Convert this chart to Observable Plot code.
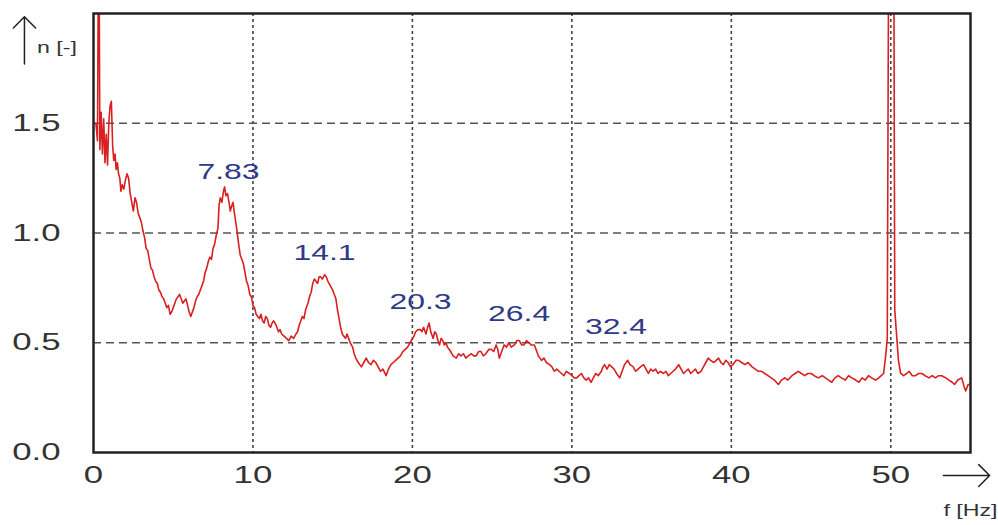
<!DOCTYPE html>
<html>
<head>
<meta charset="utf-8">
<script src="https://cdn.jsdelivr.net/npm/d3@7"></script>
<script src="https://cdn.jsdelivr.net/npm/@observablehq/plot@0.6"></script>
<style>
  html, body { margin: 0; padding: 0; background: #fff; }
  #chart svg { display: block; }
</style>
</head>
<body>
<div id="chart"></div>
<script>
// ---- data ----
const freqHz = [
0.15,0.25,0.33,0.40,0.48,0.56,0.64,0.72,0.80,0.88,0.96,1.04,1.12,1.20,1.27,1.35,1.42,1.50,1.57,1.65,
1.72,1.80,1.90,2.00,2.10,2.20,2.30,2.40,2.50,2.60,2.70,2.80,2.90,3.00,3.10,3.20,3.30,3.40,3.50,3.60,
3.70,3.80,3.90,4.00,4.10,4.20,4.30,4.40,4.50,4.60,4.70,4.80,4.90,5.00,5.10,5.20,5.30,5.40,5.50,5.60,
5.70,5.80,5.90,6.00,6.10,6.20,6.30,6.40,6.50,6.60,6.70,6.80,6.90,7.00,7.10,7.20,7.30,7.40,7.50,7.60,
7.70,7.80,7.88,7.95,8.05,8.15,8.22,8.30,8.40,8.50,8.58,8.65,8.75,8.82,8.90,9.00,9.10,9.20,9.30,9.40,
9.50,9.60,9.70,9.80,9.90,10.00,10.10,10.20,10.30,10.40,10.50,10.60,10.70,10.80,10.90,11.00,11.10,11.20,11.30,11.45,
11.60,11.70,11.80,11.95,12.10,12.25,12.40,12.55,12.70,12.80,12.90,13.00,13.10,13.20,13.30,13.45,13.55,13.65,13.75,13.85,
13.95,14.05,14.15,14.25,14.35,14.50,14.60,14.70,14.85,15.00,15.10,15.20,15.30,15.40,15.50,15.60,15.70,15.80,15.90,16.00,
16.10,16.25,16.35,16.45,16.60,16.80,16.95,17.10,17.25,17.40,17.55,17.70,17.85,18.00,18.15,18.35,18.50,18.65,18.80,18.95,
19.10,19.25,19.40,19.55,19.70,19.85,20.00,20.10,20.20,20.35,20.50,20.60,20.70,20.85,20.95,21.05,21.15,21.30,21.40,21.50,
21.60,21.70,21.80,21.90,22.00,22.10,22.20,22.30,22.40,22.55,22.75,22.90,23.05,23.20,23.35,23.50,23.70,23.85,24.00,24.15,
24.30,24.45,24.60,24.80,24.95,25.10,25.25,25.35,25.45,25.60,25.75,25.90,26.05,26.20,26.40,26.55,26.70,26.85,27.00,27.15,
27.30,27.45,27.65,27.80,27.90,28.00,28.10,28.25,28.40,28.60,28.75,28.90,29.05,29.20,29.35,29.50,29.65,29.85,30.00,30.15,
30.30,30.45,30.60,30.75,30.90,31.05,31.20,31.35,31.50,31.65,31.85,31.95,32.05,32.20,32.35,32.50,32.65,32.80,33.00,33.15,
33.30,33.40,33.50,33.65,33.85,34.00,34.15,34.30,34.50,34.65,34.80,34.95,35.10,35.25,35.40,35.55,35.75,35.90,36.05,36.20,
36.35,36.50,36.70,36.85,37.00,37.15,37.30,37.45,37.60,37.75,37.90,38.10,38.25,38.40,38.55,38.70,38.90,39.05,39.20,39.35,
39.50,39.65,39.80,39.95,40.10,40.30,40.45,40.65,40.85,41.05,41.30,41.50,41.70,41.90,42.10,42.30,42.50,42.70,42.95,43.15,
43.35,43.55,43.80,44.00,44.20,44.40,44.60,44.80,45.00,45.20,45.45,45.70,45.90,46.10,46.30,46.50,46.70,46.90,47.15,47.35,
47.55,47.80,48.00,48.20,48.40,48.60,48.80,49.05,49.25,49.40,49.55,49.68,49.78,49.88,50.18,50.25,50.35,50.48,50.62,50.80,
51.00,51.15,51.35,51.55,51.75,51.95,52.15,52.40,52.60,52.80,53.00,53.20,53.45,53.65,53.85,54.00,54.20,54.45,54.60,54.70,
54.85,55.00
];
const amplitude = [
1.50,1.42,2.60,1.38,1.55,1.36,1.52,1.32,1.45,1.31,1.50,1.58,1.60,1.40,1.33,1.36,1.29,1.32,1.27,1.25,
1.19,1.22,1.20,1.24,1.27,1.25,1.18,1.14,1.10,1.16,1.14,1.09,1.07,1.05,1.01,0.98,0.93,0.92,0.88,0.84,
0.83,0.80,0.78,0.77,0.74,0.73,0.71,0.70,0.68,0.66,0.67,0.63,0.64,0.66,0.68,0.70,0.71,0.72,0.70,0.68,
0.69,0.70,0.67,0.64,0.62,0.64,0.66,0.69,0.71,0.72,0.74,0.76,0.78,0.82,0.84,0.87,0.89,0.88,0.93,0.95,
0.99,1.02,1.13,1.16,1.14,1.19,1.21,1.17,1.18,1.14,1.10,1.12,1.14,1.10,1.06,1.01,0.95,0.90,0.88,0.86,
0.82,0.78,0.76,0.72,0.71,0.67,0.66,0.63,0.62,0.61,0.63,0.60,0.59,0.62,0.61,0.58,0.57,0.59,0.60,0.58,
0.55,0.56,0.54,0.53,0.52,0.51,0.53,0.52,0.54,0.55,0.58,0.60,0.62,0.61,0.65,0.68,0.71,0.73,0.77,0.79,
0.78,0.77,0.80,0.80,0.79,0.81,0.80,0.78,0.76,0.74,0.72,0.70,0.65,0.61,0.57,0.54,0.53,0.52,0.54,0.52,
0.50,0.48,0.45,0.43,0.41,0.39,0.41,0.43,0.41,0.40,0.42,0.41,0.39,0.37,0.38,0.35,0.38,0.40,0.41,0.42,
0.43,0.44,0.46,0.47,0.48,0.50,0.52,0.53,0.55,0.56,0.56,0.55,0.57,0.54,0.57,0.59,0.55,0.52,0.55,0.54,
0.51,0.49,0.52,0.51,0.49,0.50,0.48,0.47,0.46,0.44,0.43,0.45,0.44,0.45,0.43,0.44,0.45,0.44,0.44,0.46,
0.46,0.44,0.45,0.47,0.47,0.46,0.49,0.47,0.43,0.46,0.49,0.48,0.50,0.48,0.49,0.51,0.51,0.49,0.49,0.51,
0.50,0.49,0.49,0.46,0.44,0.43,0.42,0.43,0.41,0.40,0.39,0.37,0.38,0.37,0.36,0.35,0.37,0.36,0.35,0.34,
0.34,0.35,0.36,0.34,0.33,0.34,0.32,0.34,0.36,0.35,0.37,0.39,0.40,0.38,0.40,0.39,0.38,0.36,0.34,0.37,
0.40,0.41,0.42,0.40,0.39,0.37,0.38,0.39,0.40,0.38,0.36,0.38,0.37,0.38,0.36,0.37,0.36,0.37,0.35,0.36,
0.37,0.38,0.40,0.38,0.36,0.37,0.38,0.36,0.37,0.38,0.36,0.37,0.39,0.41,0.43,0.42,0.41,0.42,0.43,0.41,
0.40,0.42,0.41,0.39,0.40,0.42,0.42,0.41,0.40,0.41,0.39,0.38,0.37,0.37,0.36,0.35,0.34,0.33,0.31,0.33,
0.34,0.33,0.35,0.36,0.37,0.36,0.35,0.36,0.36,0.35,0.34,0.35,0.34,0.33,0.32,0.34,0.35,0.34,0.33,0.35,
0.34,0.33,0.32,0.34,0.33,0.35,0.34,0.33,0.34,0.35,0.36,0.44,0.52,2.60,2.60,0.65,0.55,0.42,0.36,0.35,
0.36,0.37,0.35,0.35,0.36,0.36,0.35,0.34,0.35,0.34,0.35,0.35,0.34,0.33,0.32,0.31,0.33,0.34,0.30,0.28,
0.31,0.31
];
const xTicks = [0, 10, 20, 30, 40, 50];
const yTicks = [0, 0.5, 1.0, 1.5];
const xGrid = [10, 20, 30, 40, 50];
const yGrid = [0.5, 1.0, 1.5];
const peakLabels = ["7.83", "14.1", "20.3", "26.4", "32.4"];
const peakLabelX = [8.47, 14.49, 20.51, 26.69, 32.77];
const peakLabelY = [1.278, 0.907, 0.686, 0.631, 0.572];
const axisLabels = ["n [-]", "f [Hz]"];
const axisLabelX = [-3.55, 53.3];
const axisLabelY = [1.845, -0.265];
const arrowX1 = [53.3, -4.33], arrowY1 = [-0.105, 1.77];
const arrowX2 = [56.2, -4.33], arrowY2 = [-0.105, 1.985];

// ---- build ----
const spectrum = freqHz.map((f, i) => ({f, a: amplitude[i]}));
const peaks = peakLabels.map((t, i) => ({t, x: peakLabelX[i], y: peakLabelY[i]}));
const labels = axisLabels.map((t, i) => ({t, x: axisLabelX[i], y: axisLabelY[i]}));
const arrows = arrowX1.map((x1, i) => ({x1, y1: arrowY1[i], x2: arrowX2[i], y2: arrowY2[i]}));

const FONT = "'Liberation Sans', Arial, Helvetica, sans-serif";

const plot = Plot.plot({
  width: 998,
  height: 525,
  marginLeft: 93,
  marginRight: 28,
  marginTop: 13,
  marginBottom: 73,
  style: {fontFamily: FONT, background: "#fff", overflow: "visible"},
  x: {domain: [0, 55], axis: null},
  y: {domain: [0, 2], axis: null},
  marks: [
    Plot.ruleY(yGrid, {stroke: "#555", strokeWidth: 1.5, strokeDasharray: "8,5"}),
    Plot.ruleX(xGrid, {stroke: "#444", strokeWidth: 1.6, strokeDasharray: "3,3"}),
    Plot.line(spectrum, {x: "f", y: "a", stroke: "#d82020", strokeWidth: 1.6, clip: true}),
    Plot.frame({stroke: "#222", strokeWidth: 2.5}),
    Plot.axisX({ticks: xTicks, tickSize: 0, tickPadding: 13, fontSize: 24, fill: "#333", label: null}),
    Plot.axisY({ticks: yTicks, tickSize: 0, tickPadding: 33, fontSize: 24, fill: "#333", tickFormat: d3.format(".1f"), label: null}),
    Plot.text(peaks, {x: "x", y: "y", text: "t", fontSize: 22, fill: "#2e3a87", textAnchor: "middle", lineAnchor: "middle"}),
    Plot.text(labels, {x: "x", y: "y", text: "t", fontSize: 16, fill: "#333", textAnchor: "start", lineAnchor: "middle"}),
    Plot.arrow(arrows, {x1: "x1", y1: "y1", x2: "x2", y2: "y2", stroke: "#222", strokeWidth: 1.5, headLength: 16, headAngle: 90})
  ]
});

// horizontally stretch text glyphs like the reference image
plot.querySelectorAll("text").forEach(t => {
  const tr = t.getAttribute("transform");
  if (tr) {
    t.setAttribute("transform", tr + " scale(1.45,1)");
  } else {
    const x = +(t.getAttribute("x") || 0), y = +(t.getAttribute("y") || 0);
    t.removeAttribute("x"); t.removeAttribute("y");
    t.setAttribute("transform", `translate(${x},${y}) scale(1.45,1)`);
  }
});

document.getElementById("chart").appendChild(plot);
</script>
</body>
</html>
